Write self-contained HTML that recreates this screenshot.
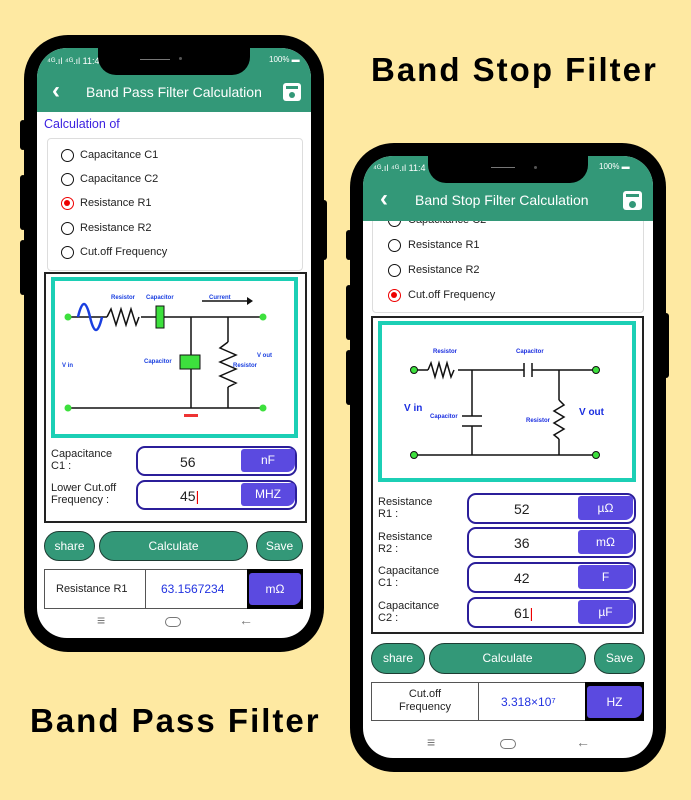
<!DOCTYPE html>
<html><head><meta charset="utf-8"><style>
*{margin:0;padding:0;box-sizing:border-box}
body{width:691px;height:800px;background:#fee9a2;position:relative;overflow:hidden;font-family:"Liberation Sans",sans-serif}
.a{position:absolute}
.phone{position:absolute;background:#000;border-radius:44px}
.scr{position:absolute;background:#fff;border-radius:30px;overflow:hidden}
.hdr{position:absolute;left:0;right:0;top:0;background:#339878}
.notch{position:absolute;background:#000;border-radius:0 0 18px 18px}
.t{position:absolute;white-space:nowrap;color:#222}
.rad{position:absolute;width:13px;height:13px;border:1.5px solid #111;border-radius:50%}
.rad.on{border-color:#e00}
.rad.on::after{content:"";position:absolute;left:2px;top:2px;width:6px;height:6px;border-radius:50%;background:#e00}
.inp{position:absolute;border:2px solid #2b1e9a;border-radius:9px;background:#fff}
.unit{position:absolute;background:#5b4ae0;color:#fff;font-size:12px;text-align:center;border-radius:3px 3px 8px 3px}
.btn{position:absolute;background:#339878;border:1.5px solid #1d3d33;border-radius:16px;color:#fff;font-size:12px;text-align:center}
.nav{position:absolute;color:#777;font-size:14px}
.side{position:absolute;background:#000;border-radius:3px}
.ttl{font-size:33px;font-weight:bold;color:#000;letter-spacing:2px}
</style></head><body>

<div class="t ttl" style="left:371px;top:51px">Band Stop Filter</div>
<div class="t ttl" style="left:30px;top:702px">Band Pass Filter</div>

<!-- LEFT PHONE -->
<div class="side" style="left:20px;top:120px;width:6px;height:30px"></div>
<div class="side" style="left:20px;top:175px;width:6px;height:55px"></div>
<div class="side" style="left:20px;top:240px;width:6px;height:55px"></div>
<div class="side" style="left:321px;top:200px;width:6px;height:60px"></div>
<div class="phone" style="left:24px;top:35px;width:300px;height:617px"></div>
<div class="scr" style="left:37px;top:48px;width:274px;height:590px">
 <div class="hdr" style="height:64px"></div>
 <div class="t" style="left:10px;top:8px;font-size:9px;color:#fff">⁴ᴳ.ıl ⁴ᴳ.ıl 11:4</div>
 <div class="t" style="left:232px;top:7px;font-size:8px;color:#fff">100% ▬</div>
 <div class="t" style="left:15px;top:29px;font-size:24px;color:#fff;font-weight:bold">‹</div>
 <div class="t" style="left:49px;top:36px;font-size:14px;color:#fff">Band Pass Filter Calculation</div>
 <div class="a" style="left:246px;top:35px;width:18px;height:18px;background:#fff;border-radius:3px"><div class="a" style="left:6px;top:9px;width:6px;height:6px;border-radius:50%;background:#339878"></div><div class="a" style="left:3px;top:3px;width:12px;height:3px;background:#339878"></div></div>
 <div class="t" style="left:7px;top:69px;font-size:12.5px;color:#3a1fe0">Calculation of</div>
 <div class="a" style="left:10px;top:90px;width:256px;height:133px;border:1px solid #ddd;border-radius:4px"></div>
 <div class="rad" style="left:24px;top:101px"></div><div class="t" style="left:43px;top:101px;font-size:11px">Capacitance C1</div>
 <div class="rad" style="left:24px;top:125px"></div><div class="t" style="left:43px;top:125px;font-size:11px">Capacitance C2</div>
 <div class="rad on" style="left:24px;top:149px"></div><div class="t" style="left:43px;top:149px;font-size:11px">Resistance R1</div>
 <div class="rad" style="left:24px;top:174px"></div><div class="t" style="left:43px;top:174px;font-size:11px">Resistance R2</div>
 <div class="rad" style="left:24px;top:198px"></div><div class="t" style="left:43px;top:198px;font-size:11px">Cut.off Frequency</div>
 <div class="a" style="left:7px;top:224px;width:263px;height:251px;border:2px solid #222"></div>
 <svg class="a" style="left:14px;top:229px" width="247" height="161" viewBox="0 0 247 161">
  <rect x="2" y="2" width="243" height="157" fill="#fff" stroke="#1ccfb5" stroke-width="4"/>
  <g stroke="#111" stroke-width="1.5" fill="none">
   <line x1="17" y1="40" x2="212" y2="40"/><line x1="17" y1="131" x2="212" y2="131"/>
   <line x1="140" y1="40" x2="140" y2="131"/><line x1="177" y1="40" x2="177" y2="65"/><line x1="177" y1="110" x2="177" y2="131"/>
   <path d="M177 65 l-8 6 l16 7 l-16 7 l16 7 l-16 7 l16 7 l-8 4"/>
   <line x1="151" y1="24" x2="196" y2="24"/>
  </g>
  <rect x="56" y="31" width="34" height="18" fill="#fff"/>
  <path d="M56 40 l4 -8 l5 16 l5 -16 l5 16 l5 -16 l5 16 l3 -8" stroke="#111" stroke-width="1.5" fill="none"/>
  <path d="M27 40 q6 -26 12 0 t12 0" stroke="#1a3fe0" stroke-width="2.5" fill="none"/>
  <rect x="105" y="29" width="8" height="22" fill="#3de03d" stroke="#111"/>
  <rect x="129" y="78" width="20" height="14" fill="#3de03d" stroke="#111"/>
  <rect x="133" y="137" width="14" height="3" fill="#e33"/>
  <path d="M196 20 l6 4 l-6 4z" fill="#111"/>
  <circle cx="17" cy="40" r="3.5" fill="#3de03d"/><circle cx="212" cy="40" r="3.5" fill="#3de03d"/>
  <circle cx="17" cy="131" r="3.5" fill="#3de03d"/><circle cx="212" cy="131" r="3.5" fill="#3de03d"/>
  <g font-family="Liberation Sans" font-size="6" font-weight="bold" fill="#1a3fe0">
   <text x="60" y="22">Resistor</text><text x="95" y="22">Capacitor</text><text x="158" y="22">Current</text>
   <text x="93" y="86">Capacitor</text><text x="182" y="90">Resistor</text><text x="206" y="80">V out</text><text x="11" y="90">V in</text>
  </g>
 </svg>
 <div class="t" style="left:14px;top:400px;font-size:11px;line-height:12px">Capacitance<br>C1 :</div>
 <div class="inp" style="left:99px;top:398px;width:161px;height:30px"></div>
 <div class="t" style="left:143px;top:406px;font-size:14px">56</div>
 <div class="unit" style="left:204px;top:401px;width:54px;height:23px;line-height:23px">nF</div>
 <div class="t" style="left:14px;top:434px;font-size:11px;line-height:12px">Lower Cut.off<br>Frequency :</div>
 <div class="inp" style="left:99px;top:432px;width:161px;height:30px"></div>
 <div class="t" style="left:143px;top:440px;font-size:14px">45<span style="color:#e00;font-weight:normal">|</span></div>
 <div class="unit" style="left:204px;top:435px;width:54px;height:23px;line-height:23px">MHZ</div>
 <div class="btn" style="left:7px;top:483px;width:51px;height:30px;line-height:28px">share</div>
 <div class="btn" style="left:62px;top:483px;width:149px;height:30px;line-height:28px">Calculate</div>
 <div class="btn" style="left:219px;top:483px;width:47px;height:30px;line-height:28px">Save</div>
 <div class="a" style="left:7px;top:521px;width:259px;height:40px;border:1px solid #555;background:#fff"></div>
 <div class="a" style="left:108px;top:521px;width:1px;height:40px;background:#555"></div>
 <div class="a" style="left:210px;top:521px;width:56px;height:40px;background:#000"></div>
 <div class="t" style="left:19px;top:535px;font-size:11px">Resistance R1</div>
 <div class="t" style="left:124px;top:534px;font-size:12px;color:#2233e0">63.1567234</div>
 <div class="unit" style="left:212px;top:525px;width:52px;height:32px;line-height:32px">mΩ</div>
 <div class="nav" style="left:60px;top:564px">≡</div>
 <div class="a" style="left:128px;top:569px;width:16px;height:10px;border:1.3px solid #777;border-radius:6px"></div>
 <div class="nav" style="left:202px;top:564px">←</div>
</div>
<div class="notch" style="left:98px;top:48px;width:152px;height:27px"></div>
<div class="a" style="left:140px;top:59px;width:30px;height:1px;background:#777"></div>
<div class="a" style="left:179px;top:57px;width:3px;height:3px;border-radius:50%;background:#555"></div>

<!-- RIGHT PHONE -->
<div class="side" style="left:346px;top:230px;width:6px;height:30px"></div>
<div class="side" style="left:346px;top:285px;width:6px;height:55px"></div>
<div class="side" style="left:346px;top:350px;width:6px;height:55px"></div>
<div class="side" style="left:663px;top:313px;width:6px;height:65px"></div>
<div class="phone" style="left:350px;top:143px;width:316px;height:629px"></div>
<div class="scr" style="left:363px;top:156px;width:290px;height:602px">
 <div class="a" style="left:9px;top:50px;width:272px;height:107px;border:1px solid #ddd;border-radius:4px"></div>
 <div class="rad" style="left:25px;top:58px"></div><div class="t" style="left:45px;top:58px;font-size:11px">Capacitance C2</div>
 <div class="rad" style="left:25px;top:83px"></div><div class="t" style="left:45px;top:83px;font-size:11px">Resistance R1</div>
 <div class="rad" style="left:25px;top:108px"></div><div class="t" style="left:45px;top:108px;font-size:11px">Resistance R2</div>
 <div class="rad on" style="left:25px;top:133px"></div><div class="t" style="left:45px;top:133px;font-size:11px">Cut.off Frequency</div>
 <div class="hdr" style="height:65px"></div>
 <div class="t" style="left:10px;top:7px;font-size:9px;color:#fff">⁴ᴳ.ıl ⁴ᴳ.ıl 11:4</div>
 <div class="t" style="left:236px;top:6px;font-size:8px;color:#fff">100% ▬</div>
 <div class="t" style="left:17px;top:29px;font-size:24px;color:#fff;font-weight:bold">‹</div>
 <div class="t" style="left:52px;top:36px;font-size:14px;color:#fff">Band Stop Filter Calculation</div>
 <div class="a" style="left:260px;top:35px;width:19px;height:19px;background:#fff;border-radius:3px"><div class="a" style="left:6px;top:10px;width:7px;height:7px;border-radius:50%;background:#339878"></div><div class="a" style="left:3px;top:3px;width:13px;height:3px;background:#339878"></div></div>
 <div class="a" style="left:8px;top:160px;width:273px;height:318px;border:2px solid #222"></div>
 <svg class="a" style="left:15px;top:165px" width="258" height="161" viewBox="0 0 258 161">
  <rect x="2" y="2" width="254" height="157" fill="#fff" stroke="#1ccfb5" stroke-width="4"/>
  <g stroke="#111" stroke-width="1.5" fill="none">
   <line x1="36" y1="49" x2="218" y2="49"/><line x1="36" y1="134" x2="218" y2="134"/>
   <line x1="94" y1="49" x2="94" y2="95"/><line x1="94" y1="105" x2="94" y2="134"/>
   <line x1="84" y1="95" x2="104" y2="95"/><line x1="84" y1="105" x2="104" y2="105"/>
   <line x1="181" y1="49" x2="181" y2="79"/><line x1="181" y1="118" x2="181" y2="134"/>
   <path d="M181 79 l5 5 l-10 6 l10 6 l-10 6 l10 6 l-10 6 l5 4"/>
  </g>
  <rect x="50" y="42" width="30" height="14" fill="#fff"/>
  <path d="M50 49 l3 -7 l4 14 l4 -14 l4 14 l4 -14 l4 14 l3 -7" stroke="#111" stroke-width="1.5" fill="none"/>
  <rect x="146" y="42" width="8" height="14" fill="#fff"/>
  <line x1="146" y1="42" x2="146" y2="56" stroke="#111" stroke-width="1.5"/><line x1="154" y1="42" x2="154" y2="56" stroke="#111" stroke-width="1.5"/>
  <circle cx="36" cy="49" r="3.5" fill="#3de03d" stroke="#111"/><circle cx="218" cy="49" r="3.5" fill="#3de03d" stroke="#111"/>
  <circle cx="36" cy="134" r="3.5" fill="#3de03d" stroke="#111"/><circle cx="218" cy="134" r="3.5" fill="#3de03d" stroke="#111"/>
  <g font-family="Liberation Sans" font-weight="bold" fill="#1a2ee0">
   <text x="55" y="32" font-size="6">Resistor</text><text x="138" y="32" font-size="6">Capacitor</text>
   <text x="52" y="97" font-size="6">Capacitor</text><text x="148" y="101" font-size="6">Resistor</text>
   <text x="26" y="90" font-size="10">V in</text><text x="201" y="94" font-size="10">V out</text>
  </g>
 </svg>
 <div class="t" style="left:15px;top:340px;font-size:11px;line-height:12px">Resistance<br>R1 :</div>
 <div class="inp" style="left:104px;top:337px;width:169px;height:31px"></div>
 <div class="t" style="left:151px;top:345px;font-size:14px">52</div>
 <div class="unit" style="left:215px;top:340px;width:55px;height:24px;line-height:24px">µΩ</div>
 <div class="t" style="left:15px;top:375px;font-size:11px;line-height:12px">Resistance<br>R2 :</div>
 <div class="inp" style="left:104px;top:371px;width:169px;height:31px"></div>
 <div class="t" style="left:151px;top:379px;font-size:14px">36</div>
 <div class="unit" style="left:215px;top:374px;width:55px;height:24px;line-height:24px">mΩ</div>
 <div class="t" style="left:15px;top:409px;font-size:11px;line-height:12px">Capacitance<br>C1 :</div>
 <div class="inp" style="left:104px;top:406px;width:169px;height:31px"></div>
 <div class="t" style="left:151px;top:414px;font-size:14px">42</div>
 <div class="unit" style="left:215px;top:409px;width:55px;height:24px;line-height:24px">F</div>
 <div class="t" style="left:15px;top:444px;font-size:11px;line-height:12px">Capacitance<br>C2 :</div>
 <div class="inp" style="left:104px;top:441px;width:169px;height:31px"></div>
 <div class="t" style="left:151px;top:449px;font-size:14px">61<span style="color:#e00">|</span></div>
 <div class="unit" style="left:215px;top:444px;width:55px;height:24px;line-height:24px">µF</div>
 <div class="btn" style="left:8px;top:487px;width:54px;height:31px;line-height:29px">share</div>
 <div class="btn" style="left:66px;top:487px;width:157px;height:31px;line-height:29px">Calculate</div>
 <div class="btn" style="left:231px;top:487px;width:51px;height:31px;line-height:29px">Save</div>
 <div class="a" style="left:8px;top:526px;width:273px;height:39px;border:1px solid #555;background:#fff"></div>
 <div class="a" style="left:115px;top:526px;width:1px;height:39px;background:#555"></div>
 <div class="a" style="left:222px;top:526px;width:59px;height:39px;background:#000"></div>
 <div class="t" style="left:36px;top:532px;font-size:11px;line-height:13px;text-align:center">Cut.off<br>Frequency</div>
 <div class="t" style="left:138px;top:539px;font-size:12px;color:#2233e0">3.318×10⁷</div>
 <div class="unit" style="left:224px;top:530px;width:55px;height:32px;line-height:32px">HZ</div>
 <div class="nav" style="left:64px;top:578px">≡</div>
 <div class="a" style="left:137px;top:583px;width:16px;height:10px;border:1.3px solid #777;border-radius:6px"></div>
 <div class="nav" style="left:213px;top:578px">←</div>
</div>
<div class="notch" style="left:428px;top:156px;width:160px;height:27px"></div>
<div class="a" style="left:491px;top:167px;width:24px;height:1px;background:#777"></div>
<div class="a" style="left:534px;top:166px;width:3px;height:3px;border-radius:50%;background:#555"></div>
</body></html>
